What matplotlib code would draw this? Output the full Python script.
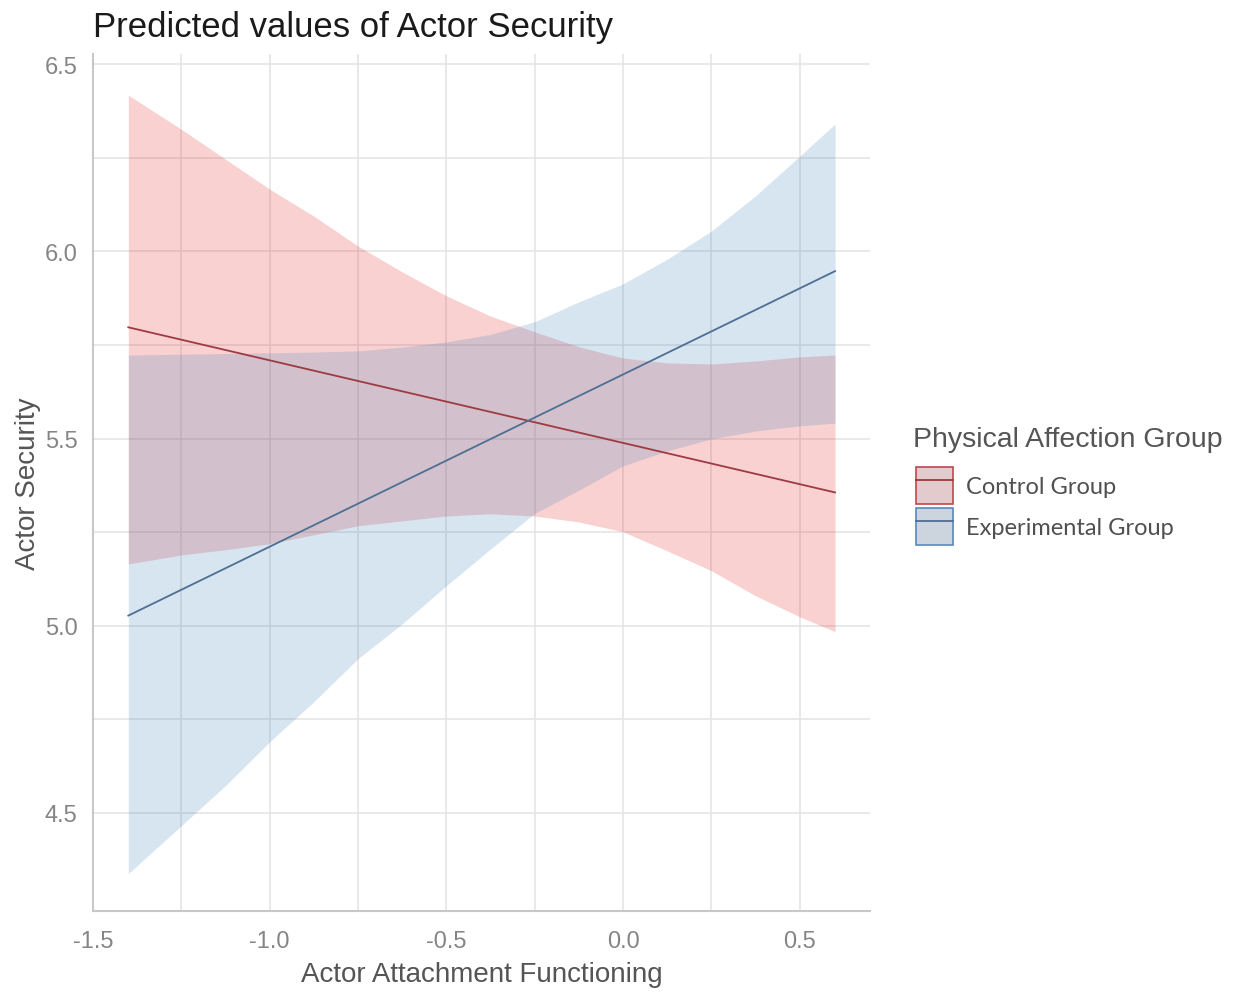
import matplotlib
matplotlib.use("Agg")
import matplotlib.pyplot as plt
from matplotlib.patches import Patch
from matplotlib.lines import Line2D

# values
x_band = [-1.4, -1.25, -1.125, -1.0, -0.875, -0.75, -0.625, -0.5, -0.375,
          -0.25, -0.125, 0.0, 0.125, 0.25, 0.375, 0.5, 0.6]
control_hi = [6.417, 6.326, 6.246, 6.166, 6.094, 6.014, 5.945, 5.881, 5.827,
              5.785, 5.745, 5.715, 5.702, 5.699, 5.707, 5.718, 5.723]
control_lo = [5.165, 5.189, 5.203, 5.219, 5.243, 5.267, 5.280, 5.293, 5.299,
              5.293, 5.277, 5.251, 5.200, 5.147, 5.080, 5.024, 4.984]
exper_hi = [5.723, 5.725, 5.727, 5.729, 5.731, 5.734, 5.744, 5.758, 5.778,
            5.812, 5.865, 5.913, 5.979, 6.054, 6.148, 6.254, 6.340]
exper_lo = [4.338, 4.466, 4.573, 4.690, 4.797, 4.912, 5.005, 5.107, 5.205,
            5.300, 5.362, 5.427, 5.467, 5.499, 5.520, 5.534, 5.541]

x_line = [-1.4, 0.6]
control_pred = [5.797, 5.356]
exper_pred = [5.027, 5.947]

groups = ["Control Group", "Experimental Group"]
x_ticks = [-1.5, -1.0, -0.5, 0.0, 0.5]
y_ticks = [4.5, 5.0, 5.5, 6.0, 6.5]

red, blue = "#E41A1C", "#377EB8"
red_line, blue_line = "#9E3A42", "#4D6F94"

plt.rcParams["font.family"] = ["Liberation Sans", "DejaVu Sans"]

fig = plt.figure(figsize=(12.33, 9.95), dpi=100)
ax = fig.add_axes([93 / 1233, 1 - 912 / 995, (870 - 93) / 1233, (912 - 55) / 995])

ax.fill_between(x_band, control_lo, control_hi, color=red, alpha=0.2, lw=0)
ax.fill_between(x_band, exper_lo, exper_hi, color=blue, alpha=0.2, lw=0)
ax.plot(x_line, control_pred, color=red_line, lw=1.3)
ax.plot(x_line, exper_pred, color=blue_line, lw=1.3)

ax.set_xlim(-1.5, 0.699)
ax.set_ylim(4.238, 6.527)
ax.set_xticks(x_ticks)
ax.set_xticklabels([f"{v:.1f}" for v in x_ticks])
ax.set_yticks(y_ticks)
ax.set_yticklabels([f"{v:.1f}" for v in y_ticks])
ax.set_xticks([-1.25, -0.75, -0.25, 0.25], minor=True)
ax.set_yticks([4.75, 5.25, 5.75, 6.25], minor=True)
ax.grid(True, which="both", color="#E3E3E3", lw=1.1)
ax.set_axisbelow(True)
ax.tick_params(which="both", length=0)
ax.tick_params(axis="x", pad=14, labelsize=17, labelcolor="#858585")
ax.tick_params(axis="y", pad=11, labelsize=17, labelcolor="#858585")

for s in ["top", "right"]:
    ax.spines[s].set_visible(False)
for s in ["left", "bottom"]:
    ax.spines[s].set_color("#C8C8C8")
    ax.spines[s].set_linewidth(1.5)

ax.set_xlabel("Actor Attachment Functioning", fontsize=20, color="#555555", labelpad=6)
ax.set_ylabel("Actor Security", fontsize=20, color="#555555", labelpad=3)
ax.set_title("Predicted values of Actor Security", loc="left", fontsize=25,
             color="#1A1A1A", pad=13)

# legend: title as separate text so the gap below it matches
fig.text(913 / 1233, 1 - 440 / 995, "Physical Affection Group", fontsize=20.5,
         color="#555555", va="center", ha="left")
handles = [
    (Patch(facecolor="#E2CACD", edgecolor="#C0474F", lw=1.2), Line2D([], [], color=red_line, lw=1.3)),
    (Patch(facecolor="#CCD5DE", edgecolor="#5B88B8", lw=1.2), Line2D([], [], color=blue_line, lw=1.3)),
]
leg = fig.legend(handles, groups, loc="upper left", bbox_to_anchor=(916 / 1233, 1 - 468 / 995),
                 frameon=False, borderpad=0, borderaxespad=0,
                 handlelength=1.57, handleheight=2.05,
                 handletextpad=0.55, labelspacing=0.16,
                 prop={"family": ["Lato", "DejaVu Sans"], "size": 17})
for t in leg.get_texts():
    t.set_color("#505050")

fig.savefig("out.png", dpi=100)
